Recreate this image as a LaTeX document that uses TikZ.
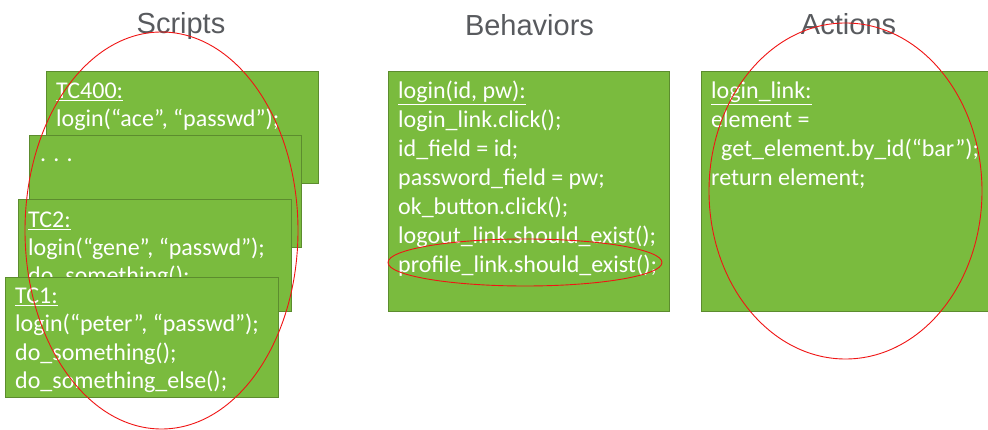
\documentclass[tikz,border=0pt]{standalone}
\usepackage{fontspec}
\setmainfont{Carlito}
\newfontfamily\titlefont{Liberation Sans}
\definecolor{boxgreen}{RGB}{122,187,62}
\definecolor{boxedge}{RGB}{92,140,46}
\definecolor{titlegray}{RGB}{88,90,94}
\definecolor{ringred}{RGB}{240,20,20}
\tikzset{
  box/.style={draw=boxedge, fill=boxgreen, line width=0.8pt, inner sep=0pt, anchor=north west},
  code/.style={text=white, font=\fontsize{24}{29}\selectfont, inner sep=0pt, anchor=base west},
  ttl/.style={text=titlegray, font=\titlefont\fontsize{29}{33}\selectfont, inner sep=0pt, anchor=base},
  ring/.style={draw=ringred, line width=0.9pt}
}
\begin{document}
\begin{tikzpicture}[x=1pt,y=-1pt]
\useasboundingbox (0,0) rectangle (988,430);
\fill[white] (0,0) rectangle (988,430);
% titles
\node[ttl] (tscripts) at (181,34) {Scripts};
\node[ttl] (tbeh) at (529.5,36) {Behaviors};
\node[ttl] (tact) at (848.5,35) {Actions};
% TC400
\node[box, minimum width=272pt, minimum height=112pt] (tc400) at (46,71) {};
\node[code] (tc400a) at (56,99) {\underline{TC400:}};
\node[code] (tc400b) at (56,127) {login(“ace”, “passwd”);};
% dots box
\node[box, minimum width=272pt, minimum height=112pt] (tcdots) at (29,135) {};
\node[code] (tcdotsa) at (40,162) {. . .};
% TC2
\node[box, minimum width=273pt, minimum height=112pt] (tc2) at (18,199) {};
\node[code] (tc2a) at (28,228) {\underline{TC2:}};
\node[code] (tc2b) at (28,256) {login(“gene”, “passwd”);};
\node[code] (tc2c) at (28,284) {do\_something();};
% TC1
\node[box, minimum width=273pt, minimum height=120pt] (tc1) at (5,277) {};
\node[code] (tc1a) at (15,304) {\underline{TC1:}};
\node[code] (tc1b) at (15,332) {login(“peter”, “passwd”);};
\node[code] (tc1c) at (15,360) {do\_something();};
\node[code] (tc1d) at (15,388) {do\_something\_else();};
% Behaviors
\node[box, minimum width=281pt, minimum height=240pt] (beh) at (388,71) {};
\node[code] (b1) at (398,99) {\underline{login(id, pw):}};
\node[code] (b2) at (398,128) {login\_link.click();};
\node[code] (b3) at (398,157) {id\_field = id;};
\node[code] (b4) at (398,186) {password\_field = pw;};
\node[code] (b5) at (398,215) {ok\_button.click();};
\node[code] (b6) at (398,244) {logout\_link.should\_exist();};
\node[code] (b7) at (398,273) {profile\_link.should\_exist();};
% Actions
\node[box, minimum width=290pt, minimum height=240pt] (act) at (701,71) {};
\node[code] (a1) at (711,99) {\underline{login\_link:}};
\node[code] (a2) at (711,128) {element =};
\node[code] (a3) at (721,157) {get\_element.by\_id(“bar”);};
\node[code] (a4) at (711,186) {return element;};
% red ellipses
\draw[ring] (161.5,230.5) ellipse [x radius=136.5, y radius=198.5];
\draw[ring] (525,262.5) ellipse [x radius=137, y radius=23.5];
\draw[ring] (845.5,191) ellipse [x radius=136.5, y radius=168];
\end{tikzpicture}
\end{document}
